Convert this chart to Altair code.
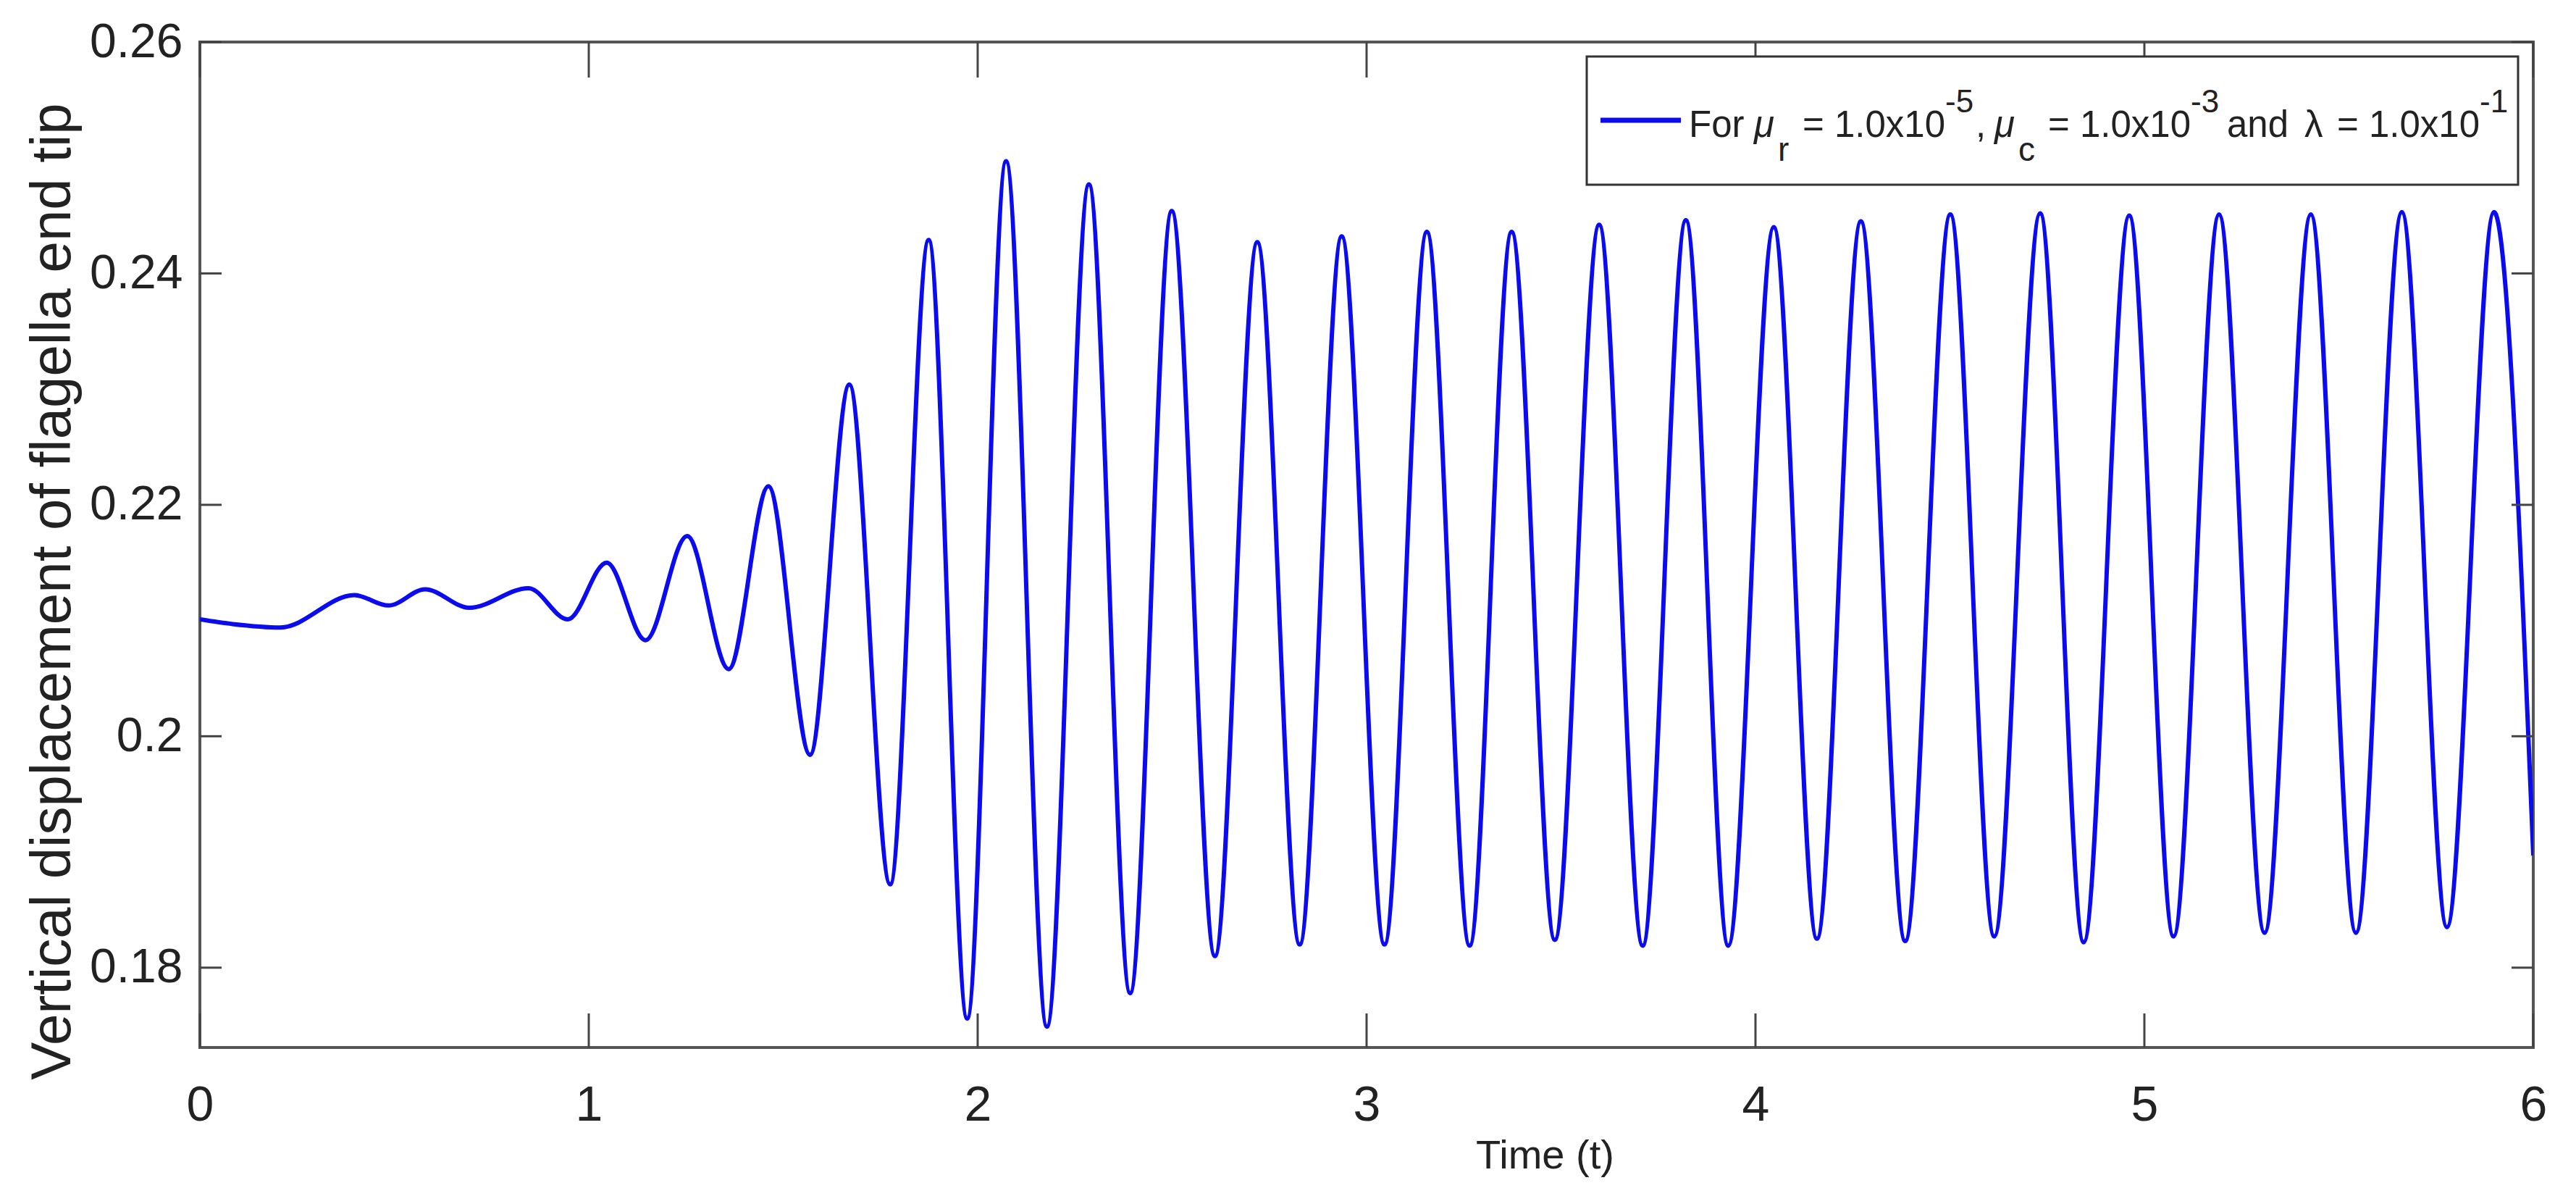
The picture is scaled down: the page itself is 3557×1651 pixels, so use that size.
import altair as alt
import pandas as pd

# ---- data (extrema of the trace) ----
t_vals = [0.000, 0.084, 0.207, 0.397, 0.485, 0.579, 0.693, 0.845, 0.946, 1.046,
          1.146, 1.253, 1.360, 1.462, 1.569, 1.670, 1.775, 1.874, 1.973, 2.073,
          2.178, 2.286, 2.392, 2.499, 2.610, 2.719, 2.828, 2.936, 3.046, 3.155,
          3.265, 3.373, 3.484, 3.598, 3.710, 3.821, 3.930, 4.047, 4.158, 4.271,
          4.385, 4.501, 4.614, 4.732, 4.844, 4.961, 5.075, 5.192, 5.309, 5.428,
          5.544, 5.662, 5.778, 5.899, 6.000]
v_vals = [0.2101, 0.2097, 0.2094, 0.2122, 0.2113, 0.2127, 0.2111, 0.2128, 0.2101, 0.2150,
          0.2083, 0.2173, 0.2058, 0.2216, 0.1984, 0.2304, 0.1872, 0.2429, 0.1756, 0.2497,
          0.1749, 0.2477, 0.1778, 0.2454, 0.1810, 0.2427, 0.1820, 0.2432, 0.1820, 0.2436,
          0.1819, 0.2436, 0.1824, 0.2442, 0.1819, 0.2446, 0.1819, 0.2440, 0.1825, 0.2445,
          0.1823, 0.2451, 0.1827, 0.2452, 0.1822, 0.2450, 0.1827, 0.2451, 0.1830, 0.2451,
          0.1830, 0.2453, 0.1835, 0.2453, 0.1897]
x_ticks = [0, 1, 2, 3, 4, 5, 6]
y_ticks = [0.18, 0.2, 0.22, 0.24, 0.26]
x_title = "Time (t)"
y_title = "Vertical displacement of flagella end tip"

W, H = 3222, 1388
Y_MIN, Y_MAX = 0.1731, 0.26

FONT = "Liberation Sans"
LINE_COLOR = "#0b0bf0"
TXT = "#222222"

df = pd.DataFrame({"t": t_vals, "v": v_vals})
xs = alt.Scale(domain=[0, 6], nice=False, zero=False)
ys = alt.Scale(domain=[Y_MIN, Y_MAX], nice=False, zero=False)

line = alt.Chart(df).mark_line(
    color=LINE_COLOR, strokeWidth=6, interpolate="monotone", clip=True
).encode(
    x=alt.X("t:Q", scale=xs, axis=alt.Axis(
        values=x_ticks, format="~g", title=x_title, grid=False, domain=False, ticks=False,
        tickSize=0, labelFlush=False, labelFont=FONT, labelFontSize=68, labelPadding=46,
        labelColor=TXT,
        titleFont=FONT, titleFontSize=56, titleFontWeight="normal", titleColor=TXT,
        titleX=1857, titleY=149, titleAlign="center", titleBaseline="middle")),
    y=alt.Y("v:Q", scale=ys, axis=alt.Axis(
        values=y_ticks, format="~g", title=y_title, grid=False, domain=False, ticks=False,
        tickSize=0, labelFlush=False, labelFont=FONT, labelFontSize=66, labelPadding=24,
        labelColor=TXT,
        titleFont=FONT, titleFontSize=78, titleFontWeight="normal", titleColor=TXT,
        titleX=-203, titleY=758, titleAngle=270, titleAlign="center", titleBaseline="middle")),
)

xt = pd.DataFrame({"t": x_ticks})
yt = pd.DataFrame({"v": y_ticks})
TICK = dict(color="#444444", strokeWidth=3)
bottom_ticks = alt.Chart(xt).mark_rule(**TICK).encode(
    x=alt.X("t:Q", scale=xs), y=alt.value(H), y2=alt.value(H - 47))
top_ticks = alt.Chart(xt).mark_rule(**TICK).encode(
    x=alt.X("t:Q", scale=xs), y=alt.value(0), y2=alt.value(49))
left_ticks = alt.Chart(yt).mark_rule(**TICK).encode(
    y=alt.Y("v:Q", scale=ys), x=alt.value(0), x2=alt.value(30))
right_ticks = alt.Chart(yt).mark_rule(**TICK).encode(
    y=alt.Y("v:Q", scale=ys), x=alt.value(W), x2=alt.value(W - 30))

one = alt.Data(values=[{}])
legend_box = alt.Chart(one).mark_rect(fill="white", stroke="#333333", strokeWidth=3).encode(
    x=alt.value(1915), x2=alt.value(3201), y=alt.value(20), y2=alt.value(197))
legend_line = alt.Chart(one).mark_rule(color=LINE_COLOR, strokeWidth=7).encode(
    x=alt.value(1934), x2=alt.value(2045), y=alt.value(108))

MAIN_Y, SUB_Y, SUP_Y = 131, 164, 97
segments = [
    ("For", 2056, MAIN_Y, 51, "normal"),
    ("\u03bc", 2146, MAIN_Y, 51, "italic"),
    ("r", 2179, SUB_Y, 46, "normal"),
    ("= 1.0x10", 2213, MAIN_Y, 51, "normal"),
    ("-5", 2410, SUP_Y, 44, "normal"),
    (",", 2452, MAIN_Y, 51, "normal"),
    ("\u03bc", 2478, MAIN_Y, 51, "italic"),
    ("c", 2511, SUB_Y, 46, "normal"),
    ("= 1.0x10", 2552, MAIN_Y, 51, "normal"),
    ("-3", 2749, SUP_Y, 44, "normal"),
    ("and", 2799, MAIN_Y, 51, "normal"),
    ("\u03bb", 2906, MAIN_Y, 51, "normal"),
    ("= 1.0x10", 2951, MAIN_Y, 51, "normal"),
    ("-1", 3148, SUP_Y, 44, "normal"),
]
legend_texts = [
    alt.Chart(one).mark_text(
        align="left", baseline="alphabetic", font=FONT, fontSize=sz,
        fontStyle=st, color=TXT
    ).encode(x=alt.value(px), y=alt.value(py), text=alt.value(s))
    for s, px, py, sz, st in segments
]

chart = alt.layer(
    line, bottom_ticks, top_ticks, left_ticks, right_ticks,
    legend_box, legend_line, *legend_texts
).properties(
    width=W, height=H,
    padding={"left": 268, "top": 50, "right": 40, "bottom": 190},
    autosize=alt.AutoSizeParams(type="none"),
    background="white",
).configure_view(stroke="#555555", strokeWidth=4)

chart.save("out.html", embed_options={"renderer": "svg", "actions": False})
